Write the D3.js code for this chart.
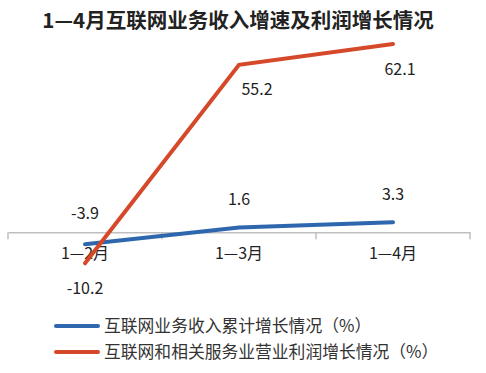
<!DOCTYPE html>
<html>
<head>
<meta charset="utf-8">
<script src="https://cdn.jsdelivr.net/npm/d3@7"></script>
<style>
body { margin: 0; background: #fff; }
svg { display: block; font-family: "Noto Sans CJK SC", "Noto Sans", sans-serif; }
</style>
</head>
<body>
<svg id="chart"></svg>
<script>
const width = 486, height = 373;

const title = '1—4月互联网业务收入增速及利润增长情况';
const months = ['1—2月', '1—3月', '1—4月'];
const revenue = [-3.9, 1.6, 3.3];
const profit = [-10.2, 55.2, 62.1];
const seriesNames = ['互联网业务收入累计增长情况（%）', '互联网和相关服务业营业利润增长情况（%）'];
const colors = ['#2e67ad', '#d5482a'];

const svg = d3.select('#chart').attr('width', width).attr('height', height);

const x = d3.scaleBand().domain(months).range([8, 470]);
const y = d3.scaleLinear().domain([-20, 70]).range([293, 20]);

svg.append('text')
	.attr('x', 238).attr('y', 28)
	.attr('text-anchor', 'middle')
	.attr('font-size', 20.5).attr('font-weight', 'bold')
	.attr('fill', '#222')
	.text(title);

// category axis sitting on zero
const axis = svg.append('g')
	.attr('transform', `translate(0,${y(0)})`)
	.call(d3.axisBottom(x).tickSize(0).tickPadding(15));
axis.select('.domain').attr('stroke', '#bfbfbf').attr('stroke-width', 1.5);
axis.selectAll('text').attr('font-size', 16).attr('fill', '#222')
	.attr('font-family', '"Noto Sans CJK SC", sans-serif');

// tick marks at band edges
const edges = months.map(m => x(m)).concat([x.range()[1]]);
axis.selectAll('.edge').data(edges).enter().append('line')
	.attr('x1', d => d).attr('x2', d => d)
	.attr('y1', 0).attr('y2', 7)
	.attr('stroke', '#bfbfbf').attr('stroke-width', 1.5);

const cx = m => x(m) + x.bandwidth() / 2;
const line = d3.line().x((d, i) => cx(months[i])).y(d => y(d));

svg.append('path').datum(revenue)
	.attr('d', line).attr('fill', 'none')
	.attr('stroke', colors[0]).attr('stroke-width', 4).attr('stroke-linecap', 'round');

svg.append('path').datum(profit)
	.attr('d', line).attr('fill', 'none')
	.attr('stroke', colors[1]).attr('stroke-width', 4).attr('stroke-linecap', 'round');

// value labels
const revOff = [[0, -25], [0, -22], [0, -22]];
const proOff = [[0, 31], [18, 30], [7, 31]];
svg.selectAll('.rev').data(revenue).enter().append('text')
	.attr('x', (d, i) => cx(months[i]) + revOff[i][0])
	.attr('y', (d, i) => y(d) + revOff[i][1])
	.attr('text-anchor', 'middle').attr('font-size', 16).attr('fill', '#222')
	.text(d => d.toFixed(1));
svg.selectAll('.pro').data(profit).enter().append('text')
	.attr('x', (d, i) => cx(months[i]) + proOff[i][0])
	.attr('y', (d, i) => y(d) + proOff[i][1])
	.attr('text-anchor', 'middle').attr('font-size', 16).attr('fill', '#222')
	.text(d => d.toFixed(1));

// legend
const legend = svg.selectAll('.leg').data(seriesNames).enter().append('g')
	.attr('transform', (d, i) => `translate(56,${326 + i * 26})`);
legend.append('line')
	.attr('x1', 0).attr('x2', 42)
	.attr('stroke', (d, i) => colors[i]).attr('stroke-width', 4).attr('stroke-linecap', 'round');
legend.append('text')
	.attr('x', 48).attr('y', 6)
	.attr('font-size', 16.8).attr('fill', '#333')
	.text(d => d);
</script>
</body>
</html>
